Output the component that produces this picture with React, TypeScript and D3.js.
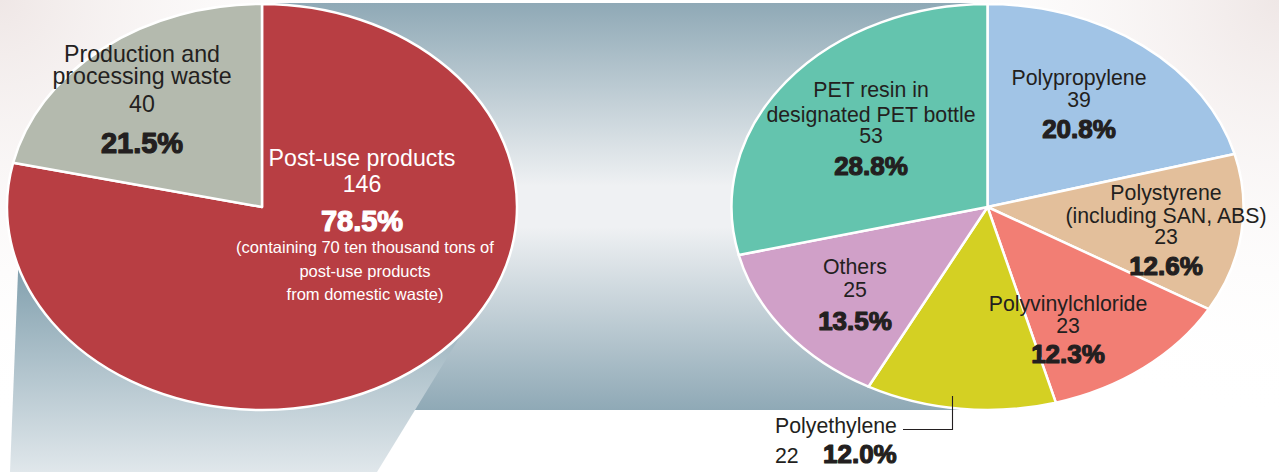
import React from "react";
import * as d3 from "d3";

// ---- data ----
const leftNames = ["Post-use products", "Production and processing waste"];
const leftValues = [146, 40];
const leftPercents = [78.5, 21.5];
const leftNote = ["(containing 70 ten thousand tons of", "post-use products", "from domestic waste)"];

const rightNames = [
  "Polypropylene",
  "Polystyrene (including SAN, ABS)",
  "Polyvinylchloride",
  "Polyethylene",
  "Others",
  "PET resin in designated PET bottle",
];
const rightValues = [39, 23, 23, 22, 25, 53];
const rightPercents = [20.8, 12.6, 12.3, 12.0, 13.5, 28.8];

// ---- styles / layout ----
const leftColors = ["#b83e43", "#b4baae"];
const rightColors = ["#a1c4e6", "#e3bf9b", "#f27e74", "#d4d023", "#d0a0c8", "#64c4ae"];
const nameLines: Record<string, string[]> = {
  "Production and processing waste": ["Production and", "processing waste"],
  "Polystyrene (including SAN, ABS)": ["Polystyrene", "(including SAN, ABS)"],
  "PET resin in designated PET bottle": ["PET resin in", "designated PET bottle"],
};
const leftLayout = [
  { x: 362, nameY: [166], valueY: 192, pctY: 231 },
  { x: 142, nameY: [62, 84], valueY: 112, pctY: 153 },
];
const rightLayout = [
  { x: 1079, nameY: [85], valueY: 107, pctY: 138 },
  { x: 1166, nameY: [200, 223], valueY: 244, pctY: 275 },
  { x: 1068, nameY: [311], valueY: 333, pctY: 363 },
  null,
  { x: 855, nameY: [274], valueY: 297, pctY: 330 },
  { x: 871, nameY: [97, 122], valueY: 143, pctY: 175 },
];

const W = 1279;
const H = 472;
const R = 203;
const L = { cx: 262, cy: 207, rx: 255 };
const Rt = { cx: 987.5, cy: 207, rx: 256 };

const FONT = "'Liberation Sans', Arial, Helvetica, sans-serif";
const DARK = "#231f20";

export default function App() {
  const pie = d3.pie<number>().sort(null).value((d) => d);
  const arc = d3.arc<d3.PieArcDatum<number>>().innerRadius(0).outerRadius(R);
  const leftArcs = pie(leftPercents);
  const rightArcs = pie(rightPercents);

  // callout polygon edges
  const callout: [number, number][] = [
    [18.5, 260],
    [488.6, 290],
    [377, 472],
    [10, 472],
  ];
  const line = d3.line();

  const pctText = (x: number, y: number, t: string, size: number, fill: string, anchor = "middle") => (
    <text
      x={x}
      y={y}
      textAnchor={anchor}
      fontFamily={FONT}
      fontWeight={700}
      fontSize={size}
      fill={fill}
      stroke={fill}
      strokeWidth={1.2}
      strokeLinejoin="round"
    >
      {t}
    </text>
  );

  return (
    <div style={{ position: "fixed", left: 0, top: 0, width: W, height: H }}>
      <svg width={W} height={H} viewBox={`0 0 ${W} ${H}`} style={{ display: "block" }}>
        <defs>
          <linearGradient id="band" x1="0" y1="3" x2="0" y2="410" gradientUnits="userSpaceOnUse">
            <stop offset="0" stopColor="#8fa9b6" />
            <stop offset="0.45" stopColor="#eff1f3" />
            <stop offset="0.55" stopColor="#eff1f3" />
            <stop offset="1" stopColor="#8fa9b6" />
          </linearGradient>
          <linearGradient id="callout" x1="0" y1="270" x2="0" y2="472" gradientUnits="userSpaceOnUse">
            <stop offset="0" stopColor="#83a1af" />
            <stop offset="1" stopColor="#e0e7eb" />
          </linearGradient>
          <radialGradient id="tl" cx="0" cy="0" r="420" gradientUnits="userSpaceOnUse">
            <stop offset="0" stopColor="#efe7e6" />
            <stop offset="1" stopColor="#ffffff" stopOpacity="0" />
          </radialGradient>
          <radialGradient id="tr" cx={W} cy="0" r="420" gradientUnits="userSpaceOnUse">
            <stop offset="0" stopColor="#efe7e6" />
            <stop offset="1" stopColor="#ffffff" stopOpacity="0" />
          </radialGradient>
        </defs>
        <rect x={0} y={0} width={W} height={H} fill="#ffffff" />
        <rect x={0} y={0} width={W} height={H} fill="url(#tl)" />
        <rect x={0} y={0} width={W} height={H} fill="url(#tr)" />

        {/* connecting band */}
        <rect x={L.cx} y={3} width={Rt.cx - L.cx} height={407} fill="url(#band)" />
        <path d={line(callout)! + "Z"} fill="url(#callout)" />

        {/* left pie */}
        <g transform={`translate(${L.cx},${L.cy}) scale(${L.rx / R},1)`}>
          {leftArcs.map((a, i) => (
            <path
              key={i}
              d={arc(a)!}
              fill={leftColors[i]}
              stroke="#ffffff"
              strokeWidth={2.5}
              strokeLinejoin="round"
              vectorEffect="non-scaling-stroke"
            />
          ))}
        </g>

        {/* right pie */}
        <g transform={`translate(${Rt.cx},${Rt.cy}) scale(${Rt.rx / R},1)`}>
          {rightArcs.map((a, i) => (
            <path
              key={i}
              d={arc(a)!}
              fill={rightColors[i]}
              stroke="#ffffff"
              strokeWidth={2.5}
              strokeLinejoin="round"
              vectorEffect="non-scaling-stroke"
            />
          ))}
        </g>

        {/* left labels */}
        {leftNames.map((n, i) => {
          const lay = leftLayout[i];
          const fill = i === 0 ? "#ffffff" : DARK;
          const lines = nameLines[n] || [n];
          return (
            <g key={n}>
              {lines.map((t, j) => (
                <text key={j} x={lay.x} y={lay.nameY[j]} textAnchor="middle" fontFamily={FONT} fontSize={23.2} fill={fill}>
                  {t}
                </text>
              ))}
              <text x={lay.x} y={lay.valueY} textAnchor="middle" fontFamily={FONT} fontSize={23.2} fill={fill}>
                {leftValues[i]}
              </text>
              {pctText(lay.x, lay.pctY, leftPercents[i].toFixed(1) + "%", 29, fill)}
            </g>
          );
        })}
        {leftNote.map((t, j) => (
          <text key={t} x={365} y={253 + j * 23.5} textAnchor="middle" fontFamily={FONT} fontSize={16.5} fill="#ffffff">
            {t}
          </text>
        ))}

        {/* right labels */}
        {rightNames.map((n, i) => {
          const lay = rightLayout[i];
          if (!lay) return null;
          const lines = nameLines[n] || [n];
          return (
            <g key={n}>
              {lines.map((t, j) => (
                <text key={j} x={lay.x} y={lay.nameY[j]} textAnchor="middle" fontFamily={FONT} fontSize={21.3} fill={DARK}>
                  {t}
                </text>
              ))}
              <text x={lay.x} y={lay.valueY} textAnchor="middle" fontFamily={FONT} fontSize={21.3} fill={DARK}>
                {rightValues[i]}
              </text>
              {pctText(lay.x, lay.pctY, rightPercents[i].toFixed(1) + "%", 26, DARK)}
            </g>
          );
        })}

        {/* Polyethylene outside label */}
        <text x={775} y={433} fontFamily={FONT} fontSize={21.3} fill={DARK}>
          {rightNames[3]}
        </text>
        <text x={775} y={463} fontFamily={FONT} fontSize={21.3} fill={DARK}>
          {rightValues[3]}
        </text>
        {pctText(823, 463, rightPercents[3].toFixed(1) + "%", 26, DARK, "start")}
        <polyline points="903,429.5 952.5,429.5 952.5,396" fill="none" stroke={DARK} strokeWidth={1.1} />
      </svg>
    </div>
  );
}
